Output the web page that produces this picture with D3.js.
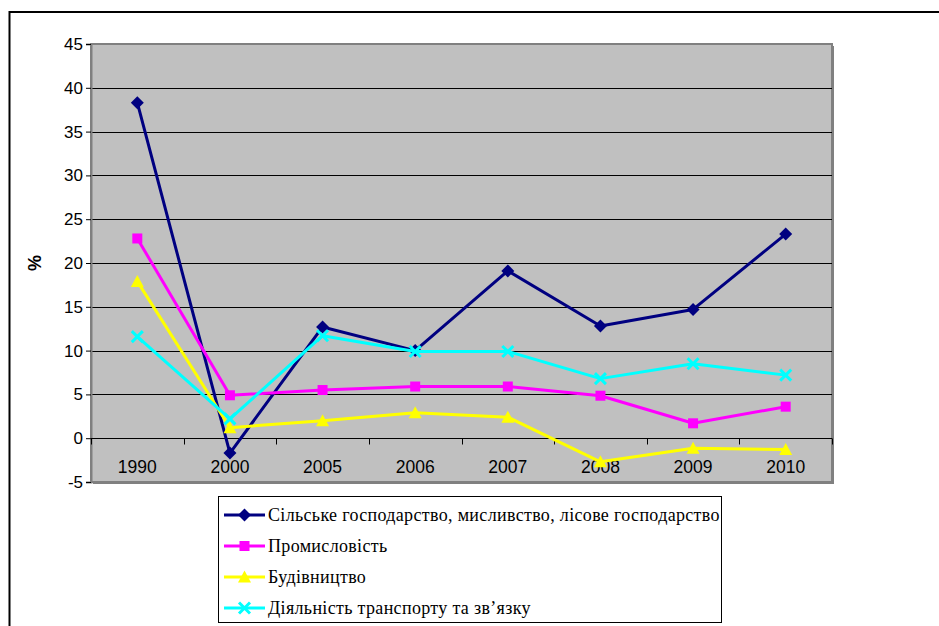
<!DOCTYPE html>
<html>
<head>
<meta charset="utf-8">
<script src="https://cdn.jsdelivr.net/npm/d3@7"></script>
<style>
    body { margin: 0; background: #fff; }
    svg { display: block; }
</style>
</head>
<body>
<div id="canvas"></div>
<script>
"use strict"

let years = ["1990", "2000", "2005", "2006", "2007", "2008", "2009", "2010"]
let agriculture = [38.3, -1.7, 12.7, 10.0, 19.1, 12.8, 14.7, 23.3]
let industry = [22.8, 4.9, 5.5, 5.9, 5.9, 4.85, 1.7, 3.6]
let construction = [17.9, 1.2, 2.0, 2.9, 2.4, -2.7, -1.15, -1.3]
let transport = [11.6, 2.2, 11.7, 9.9, 9.9, 6.8, 8.5, 7.2]
let seriesNames = [
    "Сільське господарство, мисливство, лісове господарство",
    "Промисловість",
    "Будівництво",
    "Діяльність транспорту та зв’язку"
]
let yTicks = [-5, 0, 5, 10, 15, 20, 25, 30, 35, 40, 45]

let sansFont = "'Liberation Sans', Arimo, Arial, sans-serif"
let serifFont = "'Liberation Serif', Tinos, 'Times New Roman', 'DejaVu Serif', serif"

let svgWidth = 939
let svgHeight = 626

let plot = { left: 91, right: 832, top: 44, bottom: 482 }

let svg = d3.select("#canvas")
    .append("svg")
    .attr("width", svgWidth)
    .attr("height", svgHeight)

// outer chart border (runs off the right and bottom of the picture)
svg.append("rect")
    .attr("x", 9.5)
    .attr("y", 12)
    .attr("width", 1000)
    .attr("height", 700)
    .attr("fill", "none")
    .attr("stroke", "black")
    .attr("stroke-width", 2)

let xScale = d3.scaleBand()
    .domain(years)
    .range([plot.left, plot.right])

let yScale = d3.scaleLinear()
    .domain([-5, 45])
    .range([plot.bottom, plot.top])

function cx(i) {
    return xScale(years[i]) + xScale.bandwidth() / 2
}

// plot area with shadowed border
svg.append("rect")
    .attr("x", plot.left + 2)
    .attr("y", plot.top + 2)
    .attr("width", plot.right - plot.left)
    .attr("height", plot.bottom - plot.top)
    .attr("fill", "#808080")

svg.append("rect")
    .attr("x", plot.left)
    .attr("y", plot.top)
    .attr("width", plot.right - plot.left)
    .attr("height", plot.bottom - plot.top)
    .attr("fill", "#c0c0c0")
    .attr("stroke", "#808080")
    .attr("stroke-width", 2)

// grid lines
svg.append("g")
    .selectAll("line")
    .data(yTicks.filter(function (v) { return v > -5 && v < 45 }))
    .join("line")
    .attr("x1", plot.left)
    .attr("x2", plot.right)
    .attr("y1", function (v) { return Math.round(yScale(v)) + 0.5 })
    .attr("y2", function (v) { return Math.round(yScale(v)) + 0.5 })
    .attr("stroke", "#000")
    .attr("stroke-width", 1)

// y axis
let yAxis = svg.append("g")
    .attr("transform", `translate(${plot.left},0)`)
    .call(d3.axisLeft(yScale).tickValues(yTicks).tickSize(5).tickPadding(3)
        .tickFormat(function (v) { return String(v) }))

yAxis.select(".domain").attr("stroke", "#808080").attr("stroke-width", 2)
yAxis.selectAll(".tick line").attr("stroke", "#000")
yAxis.selectAll(".tick text")
    .style("font-family", sansFont)
    .style("font-size", "17px")
    .attr("fill", "#000")

svg.append("text")
    .attr("transform", `translate(41,${(plot.top + plot.bottom) / 2}) rotate(-90)`)
    .attr("text-anchor", "middle")
    .style("font-family", sansFont)
    .style("font-size", "18px")
    .style("font-weight", "bold")
    .text("%")

// x axis on the zero line, ticks between categories
let zeroY = Math.round(yScale(0)) + 0.5
let xAxis = svg.append("g")
    .attr("transform", `translate(0,${zeroY})`)

xAxis.append("line")
    .attr("x1", plot.left)
    .attr("x2", plot.right)
    .attr("stroke", "#000")

xAxis.selectAll("line.tick")
    .data(years.concat(["end"]))
    .join("line")
    .classed("tick", true)
    .attr("x1", function (d, i) { return Math.round(plot.left + i * xScale.bandwidth()) + 0.5 })
    .attr("x2", function (d, i) { return Math.round(plot.left + i * xScale.bandwidth()) + 0.5 })
    .attr("y1", 0)
    .attr("y2", 6)
    .attr("stroke", "#000")

xAxis.selectAll("text")
    .data(years)
    .join("text")
    .attr("x", function (d, i) { return cx(i) })
    .attr("y", 34)
    .attr("text-anchor", "middle")
    .style("font-family", sansFont)
    .style("font-size", "17.5px")
    .attr("fill", "#000")
    .text(function (d) { return d })

// series
let series = [
    { name: seriesNames[0], values: agriculture, color: "#000080", marker: "diamond" },
    { name: seriesNames[1], values: industry, color: "#ff00ff", marker: "square" },
    { name: seriesNames[2], values: construction, color: "#ffff00", marker: "triangle" },
    { name: seriesNames[3], values: transport, color: "#00ffff", marker: "cross" }
]

function drawMarker(g, type, color) {
    if (type === "diamond") {
        g.append("path").attr("d", "M0,-6.5L6.5,0L0,6.5L-6.5,0Z").attr("fill", color)
    } else if (type === "square") {
        g.append("rect").attr("x", -5).attr("y", -5).attr("width", 10).attr("height", 10).attr("fill", color)
    } else if (type === "triangle") {
        g.append("path").attr("d", "M0,-6.5L6.5,5.5L-6.5,5.5Z").attr("fill", color)
    } else {
        g.append("path").attr("d", "M-5.5,-5.5L5.5,5.5M5.5,-5.5L-5.5,5.5")
            .attr("stroke", color).attr("stroke-width", 3).attr("fill", "none")
    }
}

let line = d3.line()
    .x(function (d, i) { return cx(i) })
    .y(function (d) { return yScale(d) })

series.forEach(function (s) {
    svg.append("path")
        .datum(s.values)
        .attr("d", line)
        .attr("fill", "none")
        .attr("stroke", s.color)
        .attr("stroke-width", 3)
        .attr("stroke-linejoin", "round")

    s.values.forEach(function (v, i) {
        let g = svg.append("g").attr("transform", `translate(${cx(i)},${yScale(v)})`)
        drawMarker(g, s.marker, s.color)
    })
})

// legend
let legend = svg.append("g")

legend.append("rect")
    .attr("x", 218.5)
    .attr("y", 496.5)
    .attr("width", 503)
    .attr("height", 126)
    .attr("fill", "#fff")
    .attr("stroke", "#000")

series.forEach(function (s, i) {
    let y = 515 + i * 31
    legend.append("line")
        .attr("x1", 224)
        .attr("x2", 265)
        .attr("y1", y)
        .attr("y2", y)
        .attr("stroke", s.color)
        .attr("stroke-width", 3)
    drawMarker(legend.append("g").attr("transform", `translate(244.5,${y})`), s.marker, s.color)
    legend.append("text")
        .attr("x", 268)
        .attr("y", y + 6)
        .style("font-family", serifFont)
        .style("font-size", "18px")
        .style("letter-spacing", "0.33px")
        .attr("fill", "#000")
        .text(s.name)
})
</script>
</body>
</html>
